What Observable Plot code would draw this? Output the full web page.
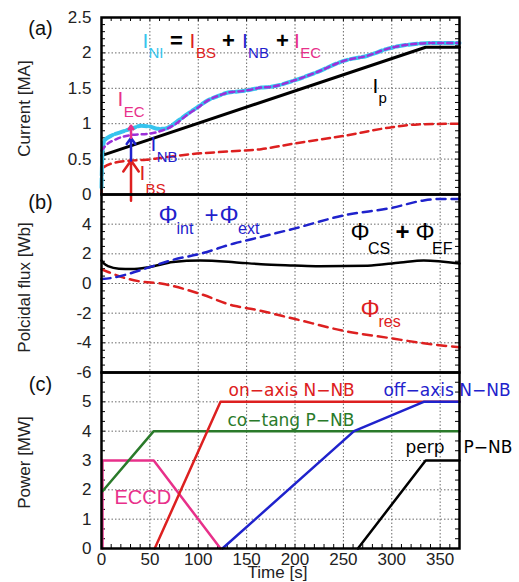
<!DOCTYPE html>
<html><head><meta charset="utf-8">
<script src="https://cdn.jsdelivr.net/npm/d3@7"></script>
<script src="https://cdn.jsdelivr.net/npm/@observablehq/plot@0.6"></script>
<style>
body{margin:0;background:#fff;}
#chart{position:relative;width:519px;height:582px;}
#chart svg{position:absolute;left:0;overflow:visible;background:transparent;}
</style></head><body><div id="chart"></div>
<script>
// ---------- data: panel (a) current [MA] ----------
const ipT = [0, 335, 370];
const ipV = [0.55, 2.08, 2.08];
const iniT = [0, 1, 3, 10, 20, 31, 41, 50, 58, 65, 72, 80, 89, 100, 110, 120, 131, 145, 154, 165, 175, 199, 223, 251, 275, 296, 327, 340, 370];
const iniV = [0.1, 0.6, 0.76, 0.83, 0.88, 0.93, 0.97, 0.96, 0.93, 0.93, 0.97, 1.05, 1.14, 1.24, 1.33, 1.39, 1.44, 1.46, 1.48, 1.51, 1.52, 1.61, 1.73, 1.89, 1.96, 2.06, 2.13, 2.14, 2.14];
const isumT = [0, 5, 15, 31, 50, 62, 75, 89, 100, 110, 120, 131, 145, 154, 165, 175, 199, 223, 251, 275, 296, 327, 340, 370];
const isumV = [0.62, 0.7, 0.78, 0.84, 0.86, 0.9, 0.98, 1.13, 1.23, 1.33, 1.39, 1.44, 1.46, 1.48, 1.51, 1.52, 1.61, 1.73, 1.89, 1.96, 2.06, 2.13, 2.14, 2.14];
const ibsT = [0, 0.5, 2, 11, 31, 46, 63, 93, 134, 165, 199, 251, 300, 327, 370];
const ibsV = [0.02, 0.3, 0.38, 0.44, 0.48, 0.49, 0.52, 0.57, 0.61, 0.64, 0.72, 0.83, 0.95, 0.99, 1.0];
// stacked arrows at t≈30: I_BS, I_NB, I_EC
const arrowT = [30.5, 30.5, 30.5];
const arrowFrom = [-0.09, 0.48, 0.8];
const arrowTo = [0.48, 0.8, 0.97];

// ---------- data: panel (b) poloidal flux [Wb] ----------
const phiIntT = [0, 11, 28, 45, 74, 102, 137, 154, 199, 251, 300, 333, 350, 370];
const phiIntV = [0.3, 0.38, 0.65, 1.0, 1.6, 2.0, 2.7, 2.97, 3.7, 4.6, 5.1, 5.6, 5.7, 5.7];
const phiCsT = [0, 2.4, 7.5, 18, 31, 49, 74, 102, 137, 165, 199, 225, 275, 309, 333, 370];
const phiCsV = [1.55, 1.35, 1.15, 1.0, 0.97, 1.1, 1.45, 1.55, 1.44, 1.3, 1.22, 1.17, 1.2, 1.42, 1.55, 1.35];
const phiResT = [0, 7.5, 21, 38, 63, 102, 137, 154, 199, 251, 300, 333, 370];
const phiResV = [0.95, 0.76, 0.43, 0.16, -0.02, -0.7, -1.5, -1.7, -2.38, -3.2, -3.7, -4.03, -4.3];

// ---------- data: panel (c) power [MW] ----------
const ecT = [1, 1, 54, 123];        const ecV = [0, 3, 3, 0];
const coT = [1, 54, 370];           const coV = [1.95, 4, 4];
const onT = [55, 123, 370];         const onV = [0, 5, 5];
const offT = [125, 261, 333, 370];  const offV = [0, 4, 5, 5];
const perpT = [265, 335, 370];      const perpV = [0, 3, 3];

// ---------- ticks ----------
const xTicks = [0, 50, 100, 150, 200, 250, 300, 350];
const xGrid = [50, 100, 150, 200, 250, 300, 350];
const aTicks = [0, 0.5, 1, 1.5, 2, 2.5];
const aGrid = [0.5, 1, 1.5, 2];
const bTicks = [-6, -4, -2, 0, 2, 4];
const bGrid = [-4, -2, 0, 2, 4];
const cTicks = [0, 1, 2, 3, 4, 5];
const cGrid = [1, 2, 3, 4, 5];
const xMinor = d3.range(0, 371, 10);
const aMinor = d3.range(0, 2.51, 0.1);
const bMinor = d3.range(-6, 6.01, 0.5);
const cMinor = d3.range(0, 6.01, 1 / 3);

// ---------- labels (data coords) ----------
const C = {cyan: "#36c4ee", purple: "#9b30d9", red: "#dd2020", blue: "#1f22cc", mag: "#e8308a", green: "#2a7a2a", black: "#000"};
const aBig = [
  {t: 42.5, v: 2.076, s: "I", c: C.cyan}, {t: 91, v: 2.076, s: "I", c: C.red},
  {t: 145.2, v: 2.076, s: "I", c: C.blue}, {t: 199, v: 2.076, s: "I", c: C.mag},
  {t: 16.6, v: 1.257, s: "I", c: C.mag}, {t: 50.7, v: 0.621, s: "I", c: C.blue},
  {t: 39.3, v: 0.198, s: "I", c: C.red}, {t: 280.1, v: 1.427, s: "I", c: C.black}
];
const aSub = [
  {t: 48.6, v: 1.935, s: "NI", c: C.cyan}, {t: 97.6, v: 1.935, s: "BS", c: C.red},
  {t: 151.5, v: 1.935, s: "NB", c: C.blue}, {t: 205.3, v: 1.935, s: "EC", c: C.mag},
  {t: 22.9, v: 1.088, s: "EC", c: C.mag}, {t: 57, v: 0.452, s: "NB", c: C.blue},
  {t: 45.6, v: 0.014, s: "BS", c: C.red}, {t: 286.4, v: 1.299, s: "p", c: C.black}
];
const aOps = [{t: 77.5, v: 2.076, s: "="}, {t: 131.3, v: 2.076, s: "+"}, {t: 187, v: 2.076, s: "+"}];
const bBig = [
  {t: 58.9, v: 4.11, s: "Φ", c: C.blue}, {t: 106.5, v: 4.11, s: "+", c: C.blue}, {t: 122, v: 4.11, s: "Φ", c: C.blue},
  {t: 257.3, v: 2.9, s: "Φ", c: C.black}, {t: 324.5, v: 2.9, s: "Φ", c: C.black},
  {t: 267.7, v: -2.29, s: "Φ", c: C.red}
];
const bSub = [
  {t: 77.5, v: 3.37, s: "int", c: C.blue}, {t: 141.2, v: 3.37, s: "ext", c: C.blue},
  {t: 275.4, v: 2.02, s: "CS", c: C.black}, {t: 341.6, v: 2.02, s: "EF", c: C.black},
  {t: 286.3, v: -2.9, s: "res", c: C.red}
];
const bOps = [{t: 311.1, v: 2.9, s: "+"}];
const cLabelsStart = [
  {t: 131.3, v: 5.39, s: "on−axis N−NB", c: C.red},
  {t: 130.2, v: 4.36, s: "co−tang P−NB", c: C.green},
  {t: 291.4, v: 5.39, s: "off−axis N−NB", c: C.blue},
  {t: 374.1, v: 3.44, s: "P−NB", c: C.black}
];
const cLabelsEnd = [{t: 354.5, v: 3.44, s: "perp", c: C.black}];
const eccdLabel = [{t: 13.4, v: 1.74, s: "ECCD", c: C.mag}];

// ---------- helpers ----------
const FONT = "'Liberation Sans', Arial, sans-serif";
const rows = (t, v) => t.map((d, i) => ({t: d, v: v[i]}));
const gridStyle = {stroke: "#6a6a6a", strokeOpacity: 1, strokeDasharray: "1.5,2", strokeWidth: 1};

function panel({height, marginTop, marginBottom, top, yDomain, yTicks, yGrid, yMinor, frameH, letter, letterDy, ylabel, ylabelDy, marks, bottomAxis, topMinor}) {
  const extra = [];
  if (bottomAxis) {
    extra.push(Plot.axisX(xTicks, {tickSize: 0, tickPadding: 4, label: null, fontSize: 17, color: "#222"}));
    extra.push(Plot.tickX(xMinor, {x: d => d, insetTop: frameH - 4, stroke: "#000"}));
    extra.push(Plot.text(["Time [s]"], {text: d => d, frameAnchor: "bottom", dx: -3, dy: 29, lineAnchor: "bottom", fontSize: 17, fill: "#222"}));
  }
  if (topMinor) extra.push(Plot.tickX(xMinor, {x: d => d, insetBottom: frameH - 4, stroke: "#000"}));
  const svg = Plot.plot({
    width: 519, height, marginLeft: 101, marginRight: 60, marginTop, marginBottom,
    x: {domain: [0, 370], axis: bottomAxis ? undefined : null},
    y: {domain: yDomain},
    color: {type: "identity"},
    style: {fontFamily: FONT, fontSize: "17px", background: "transparent", overflow: "visible"},
    marks: [
      Plot.gridX(xGrid, gridStyle),
      Plot.gridY(yGrid, gridStyle),
      Plot.tickY(yMinor, {y: d => d, insetRight: 354, stroke: "#000"}),
      Plot.tickY(yMinor, {y: d => d, insetLeft: 354, stroke: "#000"}),
      Plot.axisY(yTicks, {tickSize: 0, tickPadding: 10, label: null, fontSize: 17, color: "#222", tickFormat: d => String(d)}),
      Plot.text([ylabel], {text: d => d, frameAnchor: "left", dx: -77, dy: ylabelDy, rotate: -90, fontSize: 17, fill: "#222", lineAnchor: "middle", textAnchor: "middle"}),
      Plot.text([letter], {text: d => d, frameAnchor: "top-left", dx: -61, dy: letterDy, textAnchor: "middle", lineAnchor: "middle", fontSize: 20, fill: "#111"}),
      ...extra,
      ...marks,
      Plot.frame({stroke: "#000", strokeWidth: 2.5})
    ]
  });
  svg.style.top = top + "px";
  return svg;
}

const bigText = (data, size) => Plot.text(data, {x: "t", y: "v", text: "s", fill: "c", fontSize: size, textAnchor: "start", lineAnchor: "bottom"});

const chart = document.getElementById("chart");

// panel (a)
chart.appendChild(panel({
  height: 194, marginTop: 17, marginBottom: 0, top: 0, yDomain: [0, 2.5],
  yTicks: aTicks, yGrid: aGrid, yMinor: aMinor, frameH: 177, letter: "(a)", letterDy: 11,
  ylabel: "Current [MA]", ylabelDy: 2.5, topMinor: true,
  marks: [
    Plot.line(rows(ipT, ipV), {x: "t", y: "v", stroke: "#000", strokeWidth: 3}),
    Plot.line(rows(ibsT, ibsV), {x: "t", y: "v", stroke: C.red, strokeWidth: 2.5, strokeDasharray: "8,5", curve: "monotone-x"}),
    Plot.line(rows(iniT, iniV), {x: "t", y: "v", stroke: C.cyan, strokeWidth: 4, strokeDasharray: "9,3", curve: "monotone-x"}),
    Plot.line(rows(isumT, isumV), {x: "t", y: "v", stroke: C.purple, strokeWidth: 2.5, strokeDasharray: "5,4", curve: "monotone-x"}),
    Plot.arrow(arrowT.map((t, i) => ({t, from: arrowFrom[i], to: arrowTo[i], c: [C.red, C.blue, C.mag][i]})),
      {x1: "t", x2: "t", y1: "from", y2: "to", stroke: "c", strokeWidth: 2.5, headLength: 9, headAngle: 70}),
    bigText(aBig, 21),
    bigText(aSub, 15),
    Plot.text(aOps, {x: "t", y: "v", text: "s", fill: "#000", fontSize: 22, fontWeight: "bold", textAnchor: "middle", lineAnchor: "bottom"})
  ]
}));

// panel (b)
chart.appendChild(panel({
  height: 178, marginTop: 0, marginBottom: 0, top: 194, yDomain: [-6, 6],
  yTicks: bTicks, yGrid: bGrid, yMinor: bMinor, frameH: 178, letter: "(b)", letterDy: 8,
  ylabel: "Polcidal flux [Wb]", ylabelDy: 4,
  marks: [
    Plot.line(rows(phiCsT, phiCsV), {x: "t", y: "v", stroke: "#000", strokeWidth: 2.5, curve: "monotone-x"}),
    Plot.line(rows(phiResT, phiResV), {x: "t", y: "v", stroke: C.red, strokeWidth: 2.5, strokeDasharray: "9,6", curve: "monotone-x"}),
    Plot.line(rows(phiIntT, phiIntV), {x: "t", y: "v", stroke: C.blue, strokeWidth: 2.5, strokeDasharray: "9,6", curve: "monotone-x"}),
    bigText(bBig, 24),
    bigText(bSub, 16),
    Plot.text(bOps, {x: "t", y: "v", text: "s", fill: "#000", fontSize: 24, fontWeight: "bold", textAnchor: "middle", lineAnchor: "bottom"})
  ]
}));

// panel (c)
const powerFont = "'DejaVu Sans', sans-serif";
chart.appendChild(panel({
  height: 210, marginTop: 0, marginBottom: 34, top: 372, yDomain: [0, 6],
  yTicks: cTicks, yGrid: cGrid, yMinor: cMinor, frameH: 176, letter: "(c)", letterDy: 12,
  ylabel: "Power [MW]", ylabelDy: 2, bottomAxis: true,
  marks: [
    Plot.line(rows(ecT, ecV), {x: "t", y: "v", stroke: C.mag, strokeWidth: 2.5}),
    Plot.line(rows(coT, coV), {x: "t", y: "v", stroke: C.green, strokeWidth: 2.5}),
    Plot.line(rows(onT, onV), {x: "t", y: "v", stroke: C.red, strokeWidth: 2.5}),
    Plot.line(rows(offT, offV), {x: "t", y: "v", stroke: C.blue, strokeWidth: 2.5}),
    Plot.line(rows(perpT, perpV), {x: "t", y: "v", stroke: "#000", strokeWidth: 2.5}),
    Plot.text(cLabelsStart, {x: "t", y: "v", text: "s", fill: "c", fontSize: 17, fontFamily: powerFont, textAnchor: "start", lineAnchor: "middle"}),
    Plot.text(cLabelsEnd, {x: "t", y: "v", text: "s", fill: "c", fontSize: 17, fontFamily: powerFont, textAnchor: "end", lineAnchor: "middle"}),
    Plot.text(eccdLabel, {x: "t", y: "v", text: "s", fill: "c", fontSize: 20, textAnchor: "start", lineAnchor: "middle"})
  ]
}));
</script></body></html>
